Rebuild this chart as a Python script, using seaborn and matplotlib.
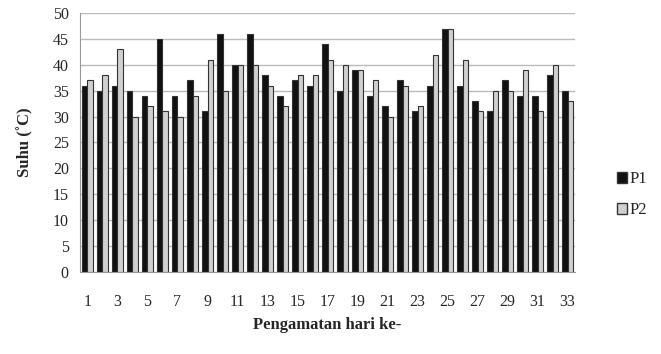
import numpy as np
import pandas as pd
import matplotlib
matplotlib.use('Agg')
import matplotlib.pyplot as plt
import seaborn as sns
from matplotlib.patches import Patch

# Data suhu harian
hari = list(range(1, 34))
p1 = [36, 35, 36, 35, 34, 45, 34, 37, 31, 46, 40, 46, 38, 34, 37, 36, 44,
      35, 39, 34, 32, 37, 31, 36, 47, 36, 33, 31, 37, 34, 34, 38, 35]
p2 = [37, 38, 43, 30, 32, 31, 30, 34, 41, 35, 40, 40, 36, 32, 38, 38, 41,
      40, 39, 37, 30, 36, 32, 42, 47, 41, 31, 35, 35, 39, 31, 40, 33]

df = pd.DataFrame({'hari': hari * 2,
                   'suhu': p1 + p2,
                   'seri': ['P1'] * len(p1) + ['P2'] * len(p2)})

sns.set_style('white')
plt.rcParams['font.family'] = ['Liberation Serif', 'DejaVu Serif']

fig = plt.figure(figsize=(6.61, 3.54), dpi=100)
ax = fig.add_axes([0.121, 0.232, 0.749, 0.731])

sns.barplot(data=df, x='hari', y='suhu', hue='seri', ax=ax,
            palette={'P1': '#111111', 'P2': '#d0d0d0'}, width=0.68,
            edgecolor='#333333', linewidth=0.8, legend=False)

ax.set_ylim(0, 50)
ax.set_yticks(np.arange(0, 51, 5))
ax.set_xlim(-0.5, len(hari) - 0.5)
ax.set_xticks(range(len(hari)))
ax.set_xticklabels([str(h) if h % 2 == 1 else '' for h in hari], fontsize=11.5)
ax.set_xticks(np.arange(-0.5, len(hari), 1), minor=True)
ax.tick_params(axis='x', which='major', length=0, pad=16)
ax.tick_params(axis='x', which='minor', length=4, color='#999999', direction='out')
ax.tick_params(axis='y', labelsize=11.5, length=0, pad=8)
ax.yaxis.grid(True, color='#bbbbbb', linewidth=1)
ax.set_axisbelow(True)
for s in ['top', 'right']:
    ax.spines[s].set_visible(False)
ax.spines['left'].set_color('#999999')
ax.spines['bottom'].set_color('#999999')

ax.set_xlabel('Pengamatan hari ke-', fontsize=12, fontweight='bold', labelpad=5)
ax.set_ylabel('Suhu (˚C)', fontsize=12, fontweight='bold', labelpad=14)

handles = [Patch(facecolor='#111111', edgecolor='#333333', label='P1'),
           Patch(facecolor='#d0d0d0', edgecolor='#333333', label='P2')]
fig.legend(handles=handles, loc='center left', bbox_to_anchor=(0.91, 0.45),
           frameon=False, fontsize=12, handlelength=0.6, handleheight=0.6,
           handletextpad=0.2, labelspacing=0.9)

fig.savefig('out.png', dpi=100)
